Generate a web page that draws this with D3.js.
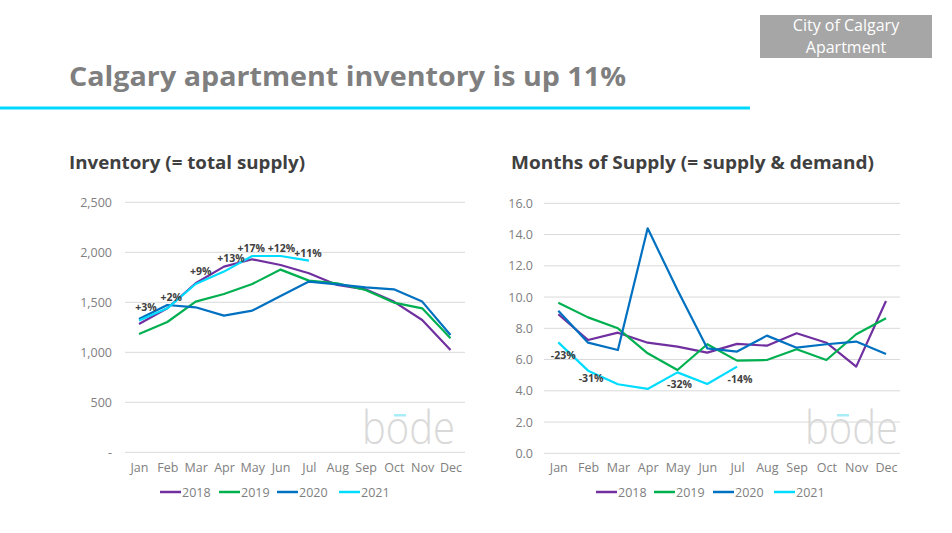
<!DOCTYPE html>
<html><head><meta charset="utf-8">
<script src="https://cdn.jsdelivr.net/npm/d3@7"></script>
<style>
body{margin:0;background:#fff;}
svg{display:block;font-family:"Open Sans",sans-serif;}
</style></head><body>
<svg id="c" width="952" height="533"></svg>
<script>
const months = ["Jan","Feb","Mar","Apr","May","Jun","Jul","Aug","Sep","Oct","Nov","Dec"];
const years = ["2018","2019","2020","2021"];
const colors = ["#7030a0","#00b050","#0070c0","#00dcff"];

const inv2018 = [1283,1440,1690,1857,1930,1873,1790,1673,1630,1507,1323,1023];
const inv2019 = [1183,1303,1507,1583,1683,1827,1717,1690,1623,1497,1440,1140];
const inv2020 = [1333,1473,1450,1367,1417,1563,1707,1680,1650,1630,1507,1173];
const inv2021 = [1317,1440,1683,1807,1963,1963,1917];
const invLabels = ["+3%","+2%","+9%","+13%","+17%","+12%","+11%"];
const invTicks = [0,500,1000,1500,2000,2500];

const mos2018 = [8.9,7.25,7.72,7.08,6.83,6.44,7.0,6.89,7.68,7.08,5.55,9.75];
const mos2019 = [9.64,8.70,8.0,6.4,5.33,6.98,5.93,5.97,6.66,5.97,7.62,8.64];
const mos2020 = [9.13,7.08,6.61,14.4,10.45,6.72,6.51,7.53,6.76,6.98,7.15,6.36];
const mos2021 = [7.1,5.29,4.42,4.12,5.18,4.44,5.55];
const mosLabels = ["-23%","-31%","","","-32%","","-14%"];
const mosTicks = [0,2,4,6,8,10,12,14,16];

const svg = d3.select("#c");

// header
svg.append("rect").attr("x",760).attr("y",15).attr("width",172).attr("height",43).attr("fill","#a6a6a6");
svg.append("text").attr("x",846).attr("y",31).attr("text-anchor","middle").attr("fill","#fff").attr("font-size",16).text("City of Calgary");
svg.append("text").attr("x",846).attr("y",53).attr("text-anchor","middle").attr("fill","#fff").attr("font-size",16).text("Apartment");
svg.append("text").attr("x",69).attr("y",86).attr("fill","#7f7f7f").attr("font-size",26).attr("font-weight","bold")
  .attr("textLength",557).attr("lengthAdjust","spacingAndGlyphs").text("Calgary apartment inventory is up 11%");
svg.append("rect").attr("x",0).attr("y",106.5).attr("width",750).attr("height",3).attr("fill","#00d9ff");

function chart(cfg){
  const g = svg.append("g");
  g.append("text").attr("x",cfg.titleX).attr("y",169).attr("fill","#404040").attr("font-size",17).attr("font-weight","bold")
    .attr("textLength",cfg.titleW).attr("lengthAdjust","spacingAndGlyphs").text(cfg.title);
  const x = d3.scalePoint().domain(months).range(cfg.xr);
  const y = d3.scaleLinear().domain(cfg.yd).range([cfg.y0,cfg.y1]);
  // grid
  g.append("g").selectAll("line").data(cfg.ticks).join("line")
    .attr("x1",cfg.gx[0]).attr("x2",cfg.gx[1]).attr("y1",d=>y(d)).attr("y2",d=>y(d))
    .attr("stroke","#d9d9d9").attr("stroke-width",1);
  // y axis
  const ya = d3.axisLeft(y).tickValues(cfg.ticks).tickSize(0).tickPadding(0).tickFormat(cfg.fmt);
  const yg = g.append("g").attr("transform",`translate(${cfg.ylabX},0)`).call(ya);
  yg.select(".domain").remove();
  yg.selectAll("text").attr("fill","#808080").attr("font-size",12.5).attr("font-family","Open Sans");
  // x axis
  const xa = d3.axisBottom(x).tickSize(0).tickPadding(0);
  const xg = g.append("g").attr("transform",`translate(0,${cfg.xlabY})`).call(xa);
  xg.select(".domain").remove();
  xg.selectAll("text").attr("fill","#808080").attr("font-size",12.5).attr("font-family","Open Sans");
  // watermark
  const wm = g.append("g");
  wm.append("text").attr("x",cfg.wmX).attr("y",444).attr("fill","#d9d9d9").attr("font-size",46).attr("font-family","Open Sans").attr("font-weight",300)
    .attr("textLength",93).attr("lengthAdjust","spacingAndGlyphs").text("bode");
  wm.append("rect").attr("x",cfg.wmX+32).attr("y",414).attr("width",12).attr("height",2.5).attr("fill","#a8ecf8");
  // lines
  const line = d3.line().x((d,i)=>x(months[i])).y(d=>y(d));
  cfg.series.forEach((s,k)=>{
    g.append("path").datum(s).attr("d",line).attr("fill","none").attr("stroke",colors[k]).attr("stroke-width",2.2).attr("stroke-linejoin","round");
  });
  // labels
  g.append("g").selectAll("text").data(cfg.labels).join("text")
    .attr("x",(d,i)=>x(months[i])+cfg.lo[i][0]).attr("y",(d,i)=>y(cfg.series[3][i])+cfg.lo[i][1])
    .attr("text-anchor","middle").attr("fill","#404040").attr("font-size",10.5).attr("font-weight","bold").text(d=>d);
  // legend
  const lg = g.append("g");
  years.forEach((yr,k)=>{
    lg.append("line").attr("x1",cfg.legX[k]).attr("x2",cfg.legX[k]+21).attr("y1",492).attr("y2",492).attr("stroke",colors[k]).attr("stroke-width",2.5);
    lg.append("text").attr("x",cfg.legX[k]+22).attr("y",496.5).attr("fill","#808080").attr("font-size",12.5).text(yr);
  });
}

chart({
  title:"Inventory (= total supply)", titleX:69, titleW:236,
  xr:[139,450.5], yd:[0,2500], y0:452.3, y1:202.3, ticks:invTicks, gx:[125,465],
  fmt:d=>d===0?"-":d3.format(",")(d), ylabX:112, xlabY:463,
  series:[inv2018,inv2019,inv2020,inv2021], labels:invLabels,
  lo:[[7,-10],[4,-7],[5,-9],[7,-10],[-1,-4],[1,-4],[-1,-4]],
  legX:[160,219,277,339], wmX:362
});
chart({
  title:"Months of Supply (= supply & demand)", titleX:511, titleW:363,
  xr:[558.3,886], yd:[0,16], y0:453.3, y1:203.3, ticks:mosTicks, gx:[544,900],
  fmt:d3.format(".1f"), ylabX:533, xlabY:463,
  series:[mos2018,mos2019,mos2020,mos2021], labels:mosLabels,
  lo:[[5,17],[3,11],[0,0],[0,0],[2,16],[0,0],[3,16]],
  legX:[596,654,713,774], wmX:805
});
</script>
</body></html>
